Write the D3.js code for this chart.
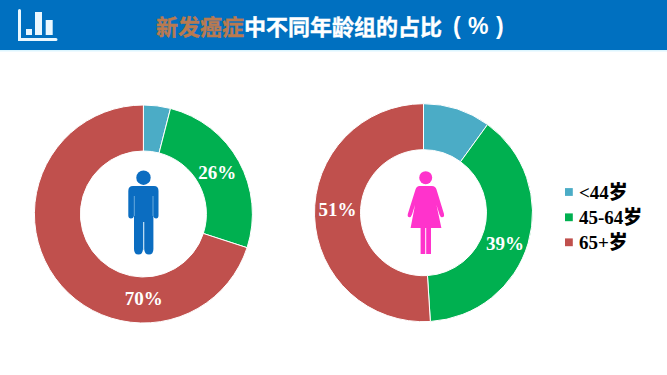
<!DOCTYPE html>
<html>
<head>
<meta charset="utf-8">
<script src="https://cdn.jsdelivr.net/npm/d3@7"></script>
<style>
html, body { margin: 0; padding: 0; background: #fff; }
svg { display: block; }
</style>
</head>
<body>
<svg id="chart"></svg>
<script>
// age groups and shares (%)
let groups = ["<44", "45-64", "65+"];
let male = [4, 26, 70];
let female = [10, 39, 51];
let maleLabels = ["", "26%", "70%"];
let femaleLabels = ["", "39%", "51%"];
let colors = ["#4BACC6", "#00B050", "#C0504D"];

let w = 667, h = 375;
let svg = d3.select("#chart").attr("width", w).attr("height", h);

// header band
svg.append("rect").attr("width", w).attr("height", 50).attr("fill", "#0070C0");
svg.append("rect").attr("y", 50).attr("width", w).attr("height", 1.5).attr("fill", "#DDF6FF");

let icon = svg.append("g").attr("fill", "#EAF8FF");
icon.append("path")
    .attr("d", "M19.5 10.5V39.5H56")
    .attr("fill", "none")
    .attr("stroke", "#EAF8FF")
    .attr("stroke-width", 3)
    .attr("stroke-linecap", "round");
icon.append("rect").attr("x", 26).attr("y", 29).attr("width", 6).attr("height", 6);
icon.append("rect").attr("x", 35).attr("y", 12).attr("width", 7).attr("height", 23);
icon.append("rect").attr("x", 45.7).attr("y", 20).attr("width", 7).attr("height", 15);

let title = svg.append("text")
    .attr("x", 156)
    .attr("y", 35)
    .attr("font-family", "'Noto Sans CJK SC'")
    .attr("font-weight", 700)
    .attr("font-size", 22)
    .attr("stroke-width", 0.4)
    .attr("fill", "#fff")
    .attr("stroke", "#fff");
title.append("tspan").attr("fill", "#B97A50").attr("stroke", "#B97A50").text("新发癌症");
title.append("tspan").text("中不同年龄组的占比");
title.append("tspan")
    .attr("x", 453)
    .attr("y", 34)
    .attr("font-family", "'Liberation Sans'")
    .attr("font-size", 23)
    .attr("stroke", "none")
    .attr("xml:space", "preserve")
    .attr("word-spacing", 1)
    .text("( % )");

// donuts
let pie = d3.pie().sort(null);
let arc = d3.arc().innerRadius(63).outerRadius(109);

function donut(values, labels, cx, cy, shifts) {
    let g = svg.append("g").attr("transform", "translate(" + cx + "," + cy + ")");
    let slices = g.selectAll("g").data(pie(values)).enter().append("g");
    slices.append("path")
        .attr("d", arc)
        .attr("fill", function(d, i) { return colors[i]; })
        .attr("stroke", "#fff")
        .attr("stroke-width", 1);
    slices.append("text")
        .attr("transform", function(d, i) {
            let c = arc.centroid(d);
            return "translate(" + (c[0] + shifts[i][0]) + "," + (c[1] + shifts[i][1]) + ")";
        })
        .attr("text-anchor", "middle")
        .attr("dy", "0.35em")
        .attr("font-family", "'Liberation Serif'")
        .attr("font-weight", 700)
        .attr("font-size", 19)
        .attr("fill", "#fff")
        .text(function(d, i) { return labels[i]; });
}

// labels were nudged by hand in the original
donut(male, maleLabels, 143.4, 214, [[0, 0], [-1.5, 0], [70, 34]]);
donut(female, femaleLabels, 423.5, 212.7, [[0, 0], [-1, 6.5], [0, -6.5]]);

// figures in the holes
let man = svg.append("g").attr("fill", "#0B6DC1");
man.append("circle").attr("cx", 143.5).attr("cy", 177.7).attr("r", 7.2);
man.append("path")
    .attr("d", "M133 186H154Q158.5 186 158.5 191V215.5Q158.5 218.5 156 218.5Q154 218.5 153.4 216V249Q153.4 254.5 149 254.5Q144.4 254.5 144.2 249V222H143V249Q142.8 254.5 138.5 254.5Q134 254.5 134 249V216Q133.4 218.5 131 218.5Q128.3 218.5 128.3 215.5V191Q128.3 186 133 186Z");
man.append("path")
    .attr("d", "M134.3 196V216M153 196V216M143.6 222V250")
    .attr("fill", "none")
    .attr("stroke", "#8FC4EA")
    .attr("stroke-width", 0.7);

let woman = svg.append("g").attr("fill", "#FF33CC");
woman.append("circle").attr("cx", 425.7).attr("cy", 177.7).attr("r", 6.5);
woman.append("path")
    .attr("d", "M419.5 186H432Q435.5 186 436.5 189.5L444 214Q444.6 217.3 442 217.3Q440.5 217.3 439.5 214.5L436.5 205L441.4 228H431V254H426.2V228H425.2V254H420.6V228H410.6L415 205L412 214.5Q411 217.3 409.5 217.3Q407.2 217.3 407.8 214L415.5 189.5Q416.5 186 419.5 186Z");

// legend
let legend = svg.selectAll(".legend").data(groups).enter().append("g")
    .attr("class", "legend")
    .attr("transform", function(d, i) { return "translate(565," + [192, 217.3, 242.3][i] + ")"; });
legend.append("rect")
    .attr("y", -3.9)
    .attr("width", 7.8)
    .attr("height", 7.8)
    .attr("fill", function(d, i) { return colors[i]; });
let legendText = legend.append("text")
    .attr("x", 14)
    .attr("dy", "0.35em")
    .attr("font-family", "'Liberation Serif'")
    .attr("font-weight", 700)
    .attr("font-size", 19)
    .attr("fill", "#000");
legendText.append("tspan").text(function(d) { return d; });
legendText.append("tspan")
    .attr("font-family", "'Noto Sans CJK SC'")
    .attr("font-weight", 900)
    .text("岁");
</script>
</body>
</html>
